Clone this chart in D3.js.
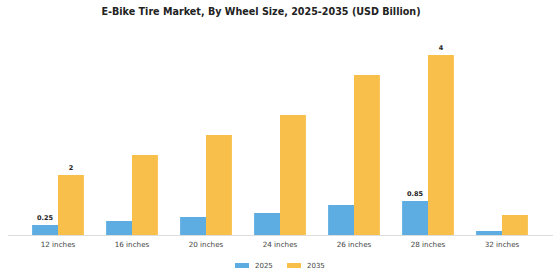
<!DOCTYPE html>
<html><head><meta charset="utf-8">
<script src="https://cdn.jsdelivr.net/npm/d3@7"></script>
<style>body{margin:0;background:#fff}svg{display:block;font-family:"DejaVu Sans",sans-serif}</style>
</head><body><svg id="c" width="560" height="280"></svg>
<script>
const categories = ["12 inches","16 inches","20 inches","24 inches","26 inches","28 inches","32 inches"];
const seriesNames = ["2025","2035"];
const values2025 = [0.25,0.35,0.45,0.55,0.75,0.85,0.1];
const values2035 = [1.5,2.0,2.5,3.0,4.0,4.5,0.5];
const labels2025 = ["0.25","","","","","0.85",""];
const labels2035 = ["2","","","","","4",""];
const colors = ["#5DADE2","#F8C04A"];

const svg = d3.select("#c");
const x = d3.scaleBand().domain(categories).range([21,539]).paddingInner(0.3).paddingOuter(0.15);
const xs = d3.scaleBand().domain(seriesNames).range([0,x.bandwidth()]);
const y = d3.scaleLinear().domain([0,5]).range([235,35]);

svg.append("text").attr("x",261).attr("y",15).attr("text-anchor","middle")
  .attr("font-size",9.6).attr("font-weight","bold").attr("fill","#222")
  .text("E-Bike Tire Market, By Wheel Size, 2025-2035 (USD Billion)");

const series = [values2025, values2035];
const labels = [labels2025, labels2035];
series.forEach((vals,si)=>{
  svg.append("g").selectAll("rect").data(categories).join("rect")
    .attr("x",c=>x(c)+xs(seriesNames[si]))
    .attr("width",xs.bandwidth())
    .attr("y",(c,i)=>y(vals[i]))
    .attr("height",(c,i)=>y(0)-y(vals[i]))
    .attr("fill",colors[si]);
  svg.append("g").selectAll("text").data(categories).join("text")
    .attr("x",c=>x(c)+xs(seriesNames[si])+xs.bandwidth()/2)
    .attr("y",(c,i)=>y(vals[i])-5)
    .attr("text-anchor","middle").attr("font-size",6.5).attr("font-weight","bold").attr("fill","#222")
    .text((c,i)=>labels[si][i]);
});

const ax = svg.append("g").attr("transform",`translate(0,${y(0)})`)
  .call(d3.axisBottom(x).tickSize(0).tickPadding(7));
ax.select(".domain").remove();
ax.selectAll("text").attr("font-size",7.2).attr("fill","#444").attr("font-family","DejaVu Sans");
svg.append("line").attr("x1",8).attr("x2",553).attr("y1",y(0)+0.5).attr("y2",y(0)+0.5)
  .attr("stroke","#ddd").attr("stroke-width",1);

const lx = [235,287];
seriesNames.forEach((s,i)=>{
  svg.append("rect").attr("x",lx[i]).attr("y",263).attr("width",14).attr("height",5).attr("fill",colors[i]);
  svg.append("text").attr("x",lx[i]+20).attr("y",268).attr("font-size",7).attr("fill","#444").text(s);
});
</script></body></html>
